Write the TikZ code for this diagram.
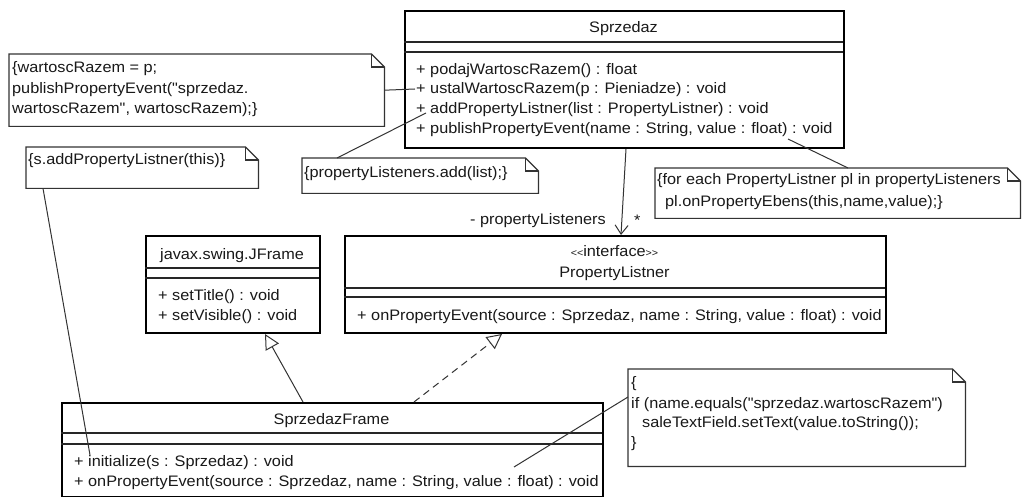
\documentclass[tikz,border=0pt]{standalone}
\usepackage{fontspec}
\setmainfont{Liberation Sans}[FakeStretch=1.07, Ligatures=TeXOff]
\usetikzlibrary{arrows.meta}
\newcommand\drawumlnote[1]{%
  \draw[noteline] (#1.north west) -- ([xshift=-13pt]#1.north east) -- ([yshift=-13pt]#1.north east) -- (#1.south east) -- (#1.south west) -- cycle;
  \draw[noteline] ([xshift=-13pt]#1.north east) -- ([xshift=-13pt,yshift=-13pt]#1.north east) -- ([yshift=-13pt]#1.north east);
}
\begin{document}
\begin{tikzpicture}[x=1pt,y=-1pt,
  classbox/.style={draw=black, line width=2pt, inner sep=0, anchor=north west, fill=white},
  sepline/.style={line width=1.2pt, draw=black!85},
  notebox/.style={inner sep=0, anchor=north west},
  noteline/.style={line width=1.2pt, draw=black!80},
  conn/.style={line width=1pt, draw=black!80},
  txt/.style={inner sep=0, anchor=base west, font=\fontsize{15.2}{18}\selectfont, text=black!90},
  ttl/.style={inner sep=0, anchor=base, font=\fontsize{15.2}{18}\selectfont, text=black!90},
  gen/.style={conn, -{Triangle[open, length=15pt, width=15pt, fill=white]}},
]
\useasboundingbox[fill=white] (0,0) rectangle (1023,497);

% ---------- classes ----------
\node[classbox, minimum width=439pt, minimum height=137pt] (sprz) at (404,10) {};
\draw[sepline] (404,42) -- (843,42);
\draw[sepline] (404,52) -- (843,52);
\node[ttl] (sprzT) at (623.5,33) {Sprzedaz};
\node[txt] (sprzM1) at (416,75) {+ podajWartoscRazem() : float};
\node[txt] (sprzM2) at (416,94) {+ ustalWartoscRazem(p : Pieniadze) : void};
\node[txt] (sprzM3) at (416,114) {+ addPropertyListner(list : PropertyListner) : void};
\node[txt] (sprzM4) at (416,134) {+ publishPropertyEvent(name : String, value : float) : void};

\node[classbox, minimum width=174pt, minimum height=97pt] (jf) at (145,235) {};
\draw[sepline] (145,268) -- (319,268);
\draw[sepline] (145,278) -- (319,278);
\node[ttl] (jfT) at (232,259) {javax.swing.JFrame};
\node[txt] (jfM1) at (158,300) {+ setTitle() : void};
\node[txt] (jfM2) at (158,320) {+ setVisible() : void};

\node[classbox, minimum width=541pt, minimum height=97pt] (pl) at (344,235) {};
\draw[sepline] (344,288) -- (885,288);
\draw[sepline] (344,297) -- (885,297);
\node[ttl] (plS) at (614.5,257) {{\fontsize{10}{12}\selectfont<\kern0pt<}interface{\fontsize{10}{12}\selectfont>\kern0pt>}};
\node[ttl] (plT) at (614.5,277) {PropertyListner};
\node[txt] (plM1) at (357,320) {+ onPropertyEvent(source : Sprzedaz, name : String, value : float) : void};

\node[classbox, minimum width=541pt, minimum height=94pt] (sf) at (61,402) {};
\draw[sepline] (61,433) -- (602,433);
\draw[sepline] (61,444) -- (602,444);
\node[ttl] (sfT) at (331.5,424) {SprzedazFrame};
\node[txt] (sfM1) at (74,466) {+ initialize(s : Sprzedaz) : void};
\node[txt] (sfM2) at (74,486) {+ onPropertyEvent(source : Sprzedaz, name : String, value : float) : void};

% ---------- notes ----------
\node[notebox, minimum width=375pt, minimum height=72pt] (n1) at (9,54) {};
\drawumlnote{n1}
\node[txt] (n1a) at (12,73) {\{wartoscRazem = p;};
\node[txt] (n1b) at (12,94) {publishPropertyEvent("sprzedaz.};
\node[txt] (n1c) at (12,114) {wartoscRazem", wartoscRazem);\}};

\node[notebox, minimum width=232pt, minimum height=41pt] (n2) at (26,147) {};
\drawumlnote{n2}
\node[txt] (n2a) at (28,165) {\{s.addPropertyListner(this)\}};

\node[notebox, minimum width=236pt, minimum height=35pt] (n3) at (302,158) {};
\drawumlnote{n3}
\node[txt] (n3a) at (304,178) {\{propertyListeners.add(list);\}};

\node[notebox, minimum width=365pt, minimum height=50pt] (n4) at (655,168) {};
\drawumlnote{n4}
\node[txt] (n4a) at (657,185) {\{for each PropertyListner pl in propertyListeners};
\node[txt] (n4b) at (665,207) {pl.onPropertyEbens(this,name,value);\}};

\node[notebox, minimum width=337pt, minimum height=97pt] (n5) at (628,369) {};
\drawumlnote{n5}
\node[txt] (n5a) at (631,387) {\{};
\node[txt] (n5b) at (631,408) {if (name.equals("sprzedaz.wartoscRazem")};
\node[txt] (n5c) at (642,427) {saleTextField.setText(value.toString());};
\node[txt] (n5d) at (631,447) {\}};

% ---------- note anchors ----------
\coordinate (c1) at (415,89);
\coordinate (c2) at (426,113);
\coordinate (c3) at (788,139);
\coordinate (c4) at (90,455);
\coordinate (c5) at (514,467);

\draw[conn] (n1.east) -- (c1);
\draw[conn] ([xshift=35pt]n3.north west) -- (c2);
\draw[conn] ([xshift=193pt]n4.north west) -- (c3);
\draw[conn] ([xshift=17pt]n2.south west) -- (c4);
\draw[conn] ([yshift=-28pt]n5.north west) -- (c5);

% ---------- relations ----------
\draw[conn, -{Straight Barb[length=9pt, width=13pt]}] ([xshift=1.5pt]sprz.south) -- ([xshift=5.5pt]pl.north);
\node[txt, anchor=base east] (role) at (606,225) {- propertyListeners};
\node[txt] (mult) at (634,226) {*};

\draw[gen] ([xshift=242pt]sf.north west) -- ([xshift=120pt]jf.south west);
\draw[gen, dash pattern=on 7pt off 5pt] ([xshift=353pt]sf.north west) -- ([xshift=158pt]pl.south west);
\end{tikzpicture}
\end{document}
